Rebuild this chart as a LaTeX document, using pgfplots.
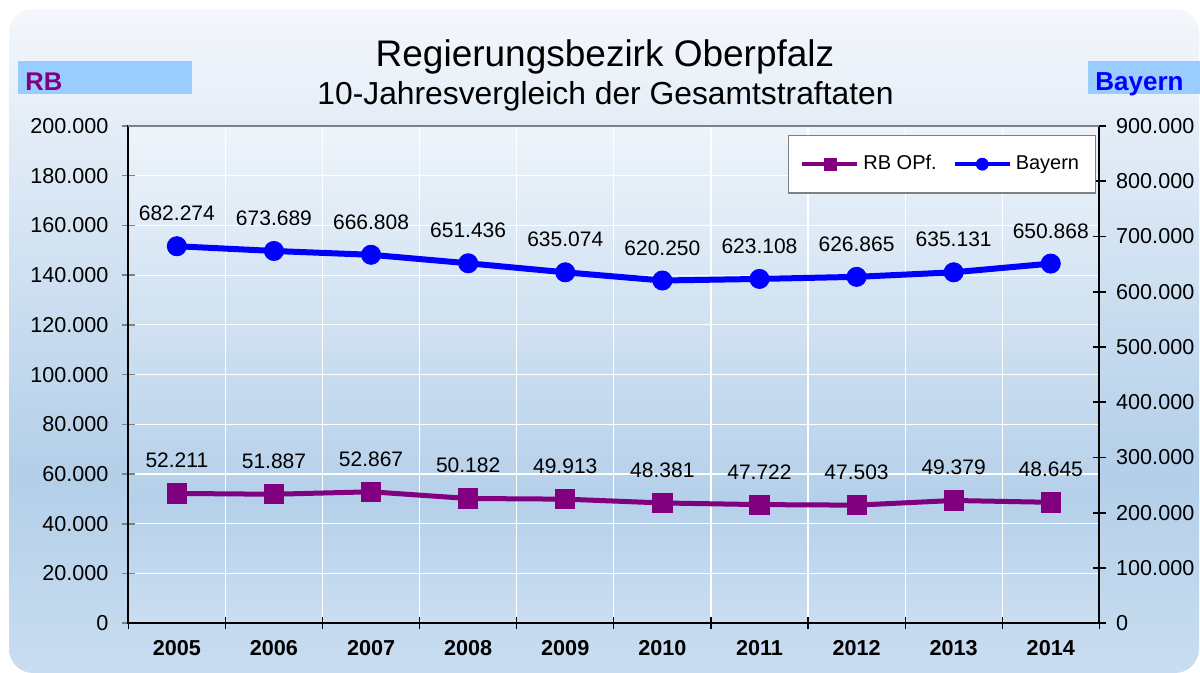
\documentclass[border=0pt]{standalone}
\usepackage{fontspec}
\setmainfont{Liberation Sans}
\usepackage{pgfplots}
\pgfplotsset{compat=1.18}
\definecolor{rbpurple}{HTML}{800080}
\definecolor{bayblue}{HTML}{0000FF}
\definecolor{boxblue}{HTML}{99CCFF}
\definecolor{oA}{HTML}{C9DDF0}
\definecolor{oB}{HTML}{B3CFE9}
\definecolor{oC}{HTML}{F4F7FC}
\definecolor{pA}{HTML}{CBDEF1}
\definecolor{pB}{HTML}{B5D0EA}
\definecolor{pC}{HTML}{EEF4FA}
\pgfdeclareverticalshading{outerbg}{100bp}{color(0bp)=(oA); color(25bp)=(oA); color(40bp)=(oB); color(75bp)=(oC); color(100bp)=(oC)}
\pgfdeclareverticalshading{plotbg}{100bp}{color(0bp)=(pA); color(25bp)=(pA); color(37.5bp)=(pB); color(75bp)=(pC); color(100bp)=(pC)}
\pgfplotstableread{
x y lab
0 52211 52.211
1 51887 51.887
2 52867 52.867
3 50182 50.182
4 49913 49.913
5 48381 48.381
6 47722 47.722
7 47503 47.503
8 49379 49.379
9 48645 48.645
}\rbdata
\pgfplotstableread{
x y lab
0 682274 682.274
1 673689 673.689
2 666808 666.808
3 651436 651.436
4 635074 635.074
5 620250 620.250
6 623108 623.108
7 626865 626.865
8 635131 635.131
9 650868 650.868
}\baydata
\begin{document}
\begin{tikzpicture}
\clip (0,0) rectangle (600pt,336.5pt);
\fill[white] (0,0) rectangle (600pt,336.5pt);
\shade[shading=outerbg, rounded corners=12pt] (4.5pt,0pt) rectangle (599.5pt,332pt);
% header boxes
\fill[boxblue] (9pt,289.5pt) rectangle (96pt,306pt);
\node[anchor=base west, inner sep=0pt, text=rbpurple, font=\bfseries\fontsize{12.8}{14}\selectfont] at (12.5pt,291pt) {RB};
\fill[boxblue] (544pt,289.5pt) rectangle (600pt,306pt);
\node[anchor=base west, inner sep=0pt, text=bayblue, font=\bfseries\fontsize{13}{14}\selectfont] at (547.5pt,291pt) {Bayern};
% titles
\node[anchor=base, inner sep=0pt, font=\fontsize{18.5}{20}\selectfont] at (302.5pt,303.2pt) {Regierungsbezirk Oberpfalz};
\node[anchor=base, inner sep=0pt, font=\fontsize{15.9}{18}\selectfont] at (302.75pt,284pt) {10-Jahresvergleich der Gesamtstraftaten};
\begin{axis}[name=ax1,
  at={(64.15pt,24.85pt)}, anchor=south west, scale only axis,
  width=485.5pt, height=248.7pt,
  xmin=-0.5, xmax=9.5, ymin=0, ymax=200000,
  scaled y ticks=false,
  axis background/.style={shade, shading=plotbg},
  xtick={0,...,9},
  xticklabels={2005,2006,2007,2008,2009,2010,2011,2012,2013,2014},
  minor xtick={-0.5,0.5,...,9.5},
  major x tick style={draw=none},
  minor x tick style={black, line width=0.6pt},
  xminorgrids=true,
  minor x grid style={white, line width=0.6pt},
  ymajorgrids=true,
  major y grid style={white, line width=0.6pt},
  ytick={0,20000,...,200000},
  yticklabels={0,20.000,40.000,60.000,80.000,100.000,120.000,140.000,160.000,180.000,200.000},
  y tick style={gray, line width=0.8pt},
  xtick pos=bottom, ytick pos=left,
  tick align=center, major tick length=6.5pt, minor tick length=6pt,
  axis line style={black, line width=0.9pt},
  yticklabel style={font=\fontsize{10.8}{12}\selectfont, inner sep=0pt, xshift=-6.5pt},
  xticklabel style={font=\bfseries\fontsize{10.8}{12}\selectfont, inner sep=0pt, yshift=-5pt},
  clip=false,
]
\addplot[rbpurple, line width=2.5pt, mark=square*, mark size=4.8pt,
  mark options={line width=0.4pt},
  point meta=explicit symbolic, nodes near coords,
  every node near coord/.style={anchor=base, yshift=12.75pt, inner sep=0pt, text=black, font=\fontsize{10.5}{12}\selectfont}]
  table[x=x, y=y, meta=lab] {\rbdata};
\end{axis}
\begin{axis}[name=ax2,
  at={(64.15pt,24.85pt)}, anchor=south west, scale only axis,
  width=485.5pt, height=248.7pt,
  xmin=-0.5, xmax=9.5, ymin=0, ymax=900000,
  scaled y ticks=false,
  hide x axis, axis y line*=right,
  axis line style={black, line width=0.9pt, -},
  ytick={0,100000,...,900000},
  yticklabels={0,100.000,200.000,300.000,400.000,500.000,600.000,700.000,800.000,900.000},
  y tick style={black, line width=0.8pt},
  tick align=center, major tick length=6.5pt,
  yticklabel style={font=\fontsize{10.8}{12}\selectfont, inner sep=0pt, xshift=5pt},
  clip=false,
  legend style={at={(0.9963,0.982)}, anchor=north east, draw=gray, line width=0.6pt, fill=white,
    font=\fontsize{10}{12}\selectfont, inner xsep=6pt, inner ysep=8pt,
    /tikz/every even column/.append style={column sep=6pt}},
  legend columns=2, legend cell align=left,
  legend image code/.code={\draw[mark repeat=2,mark phase=2,#1] plot coordinates {(0pt,0pt) (13.75pt,0pt) (27.5pt,0pt)};},
  legend image post style={mark size=3pt, line width=2pt},
]
\addlegendimage{rbpurple, line width=2.5pt, mark=square*, mark options={line width=0.4pt}}
\addlegendentry{RB OPf.}
\addplot[bayblue, line width=3pt, mark=*, mark size=4.8pt,
  mark options={line width=0.4pt},
  point meta=explicit symbolic, nodes near coords,
  every node near coord/.style={anchor=base, yshift=12.75pt, inner sep=0pt, text=black, font=\fontsize{10.5}{12}\selectfont}]
  table[x=x, y=y, meta=lab] {\baydata};
\addlegendentry{Bayern}
\end{axis}
\draw[gray, line width=1.1pt] (ax1.north west) -- (ax1.north east);
\end{tikzpicture}
\end{document}
